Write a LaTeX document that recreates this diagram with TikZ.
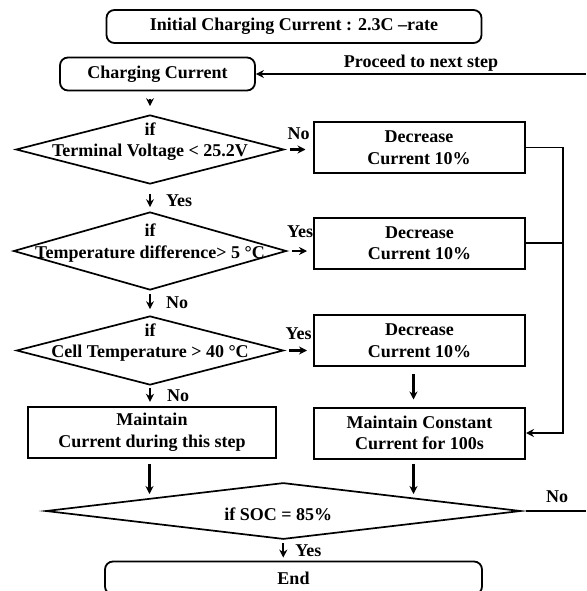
\documentclass[tikz,border=0pt]{standalone}
\usepackage{fontspec}
\setmainfont{Liberation Serif}
\usetikzlibrary{arrows.meta,shapes.geometric,positioning}
\definecolor{ink}{HTML}{000000}
\newcommand{\chartfont}{\fontsize{18}{21.5}\selectfont\bfseries}
\tikzset{
 every node/.append style={font=\chartfont,text=ink,align=center},
 box/.style={draw=ink,line width=2pt,inner sep=2pt,minimum height=51pt},
 stepbox/.style={box,minimum width=211pt},
 term/.style={draw=ink,line width=1.8pt,rounded corners=8pt,minimum height=33pt,inner sep=2pt},
 cond/.style={draw=ink,diamond,line width=1.7pt,inner sep=0pt},
 word/.style={inner sep=1pt},
 flow/.style={-{Stealth[length=8pt,width=8pt]},draw=ink,line width=2.2pt},
 route/.style={draw=ink,line width=1.8pt},
}

\begin{document}
\begin{tikzpicture}[x=1pt,y=-1pt]

\useasboundingbox (0,0) rectangle (586,591);
\node[term,minimum width=375pt] (init) at (294,26.5) {Initial Charging Current : 2.3C –rate};
\node[term,minimum width=195pt] (cc) at (157.5,74) {Charging Current};
\node[cond,minimum width=268pt,minimum height=69pt,label={[yshift=8pt]center:{if\\Terminal Voltage < 25.2V}}] (d1) at (150,149.5) {};
\node[cond,minimum width=273pt,minimum height=78pt,label={[yshift=8pt]center:{if\\Temperature difference> 5 °C}}] (d2) at (150,251) {};
\node[cond,minimum width=267pt,minimum height=69pt,label={[yshift=8pt]center:{if\\Cell Temperature > 40 °C}}] (d3) at (150,350.5) {};
\node[stepbox] (dec1) at (419,147.5) {Decrease\\Current 10\%};
\node[stepbox] (dec2) at (419.5,243) {Decrease\\Current 10\%};
\node[stepbox] (dec3) at (419.5,340.5) {Decrease\\Current 10\%};
\node[box,minimum width=248.5pt] (keep) at (152,432.3) {Maintain\\Current during this step};
\node[stepbox] (hold) at (419.5,433) {Maintain Constant\\Current for 100s};
\node[cond,minimum width=475pt,minimum height=56.5pt,label={[xshift=-5pt,yshift=-3pt]center:{if SOC = 85\%}}] (soc) at (283.3,511) {};
\node[term,minimum width=377pt] (done) at (293.5,578) {End};
\coordinate (back) at (586,74);
\coordinate (out) at (586,511);
\coordinate (tr) at (563,147.5);

\draw[flow] (back) -- (cc.east) node[word,midway,above=1pt] {Proceed to next step};
\draw[flow,shorten <=8pt,shorten >=8pt] (cc.south -| d1.north) -- (d1.north);
\draw[flow,shorten <=9pt,shorten >=4pt] (d1.south) -- (d2.north) node[word,pos=.6,right=14pt] {Yes};
\draw[flow,shorten <=3pt,shorten >=6pt] (d2.south) -- (d3.north) node[word,pos=.5,right=14pt] {No};
\draw[flow,shorten <=2pt,shorten >=4pt] (d3.south) -- (d3.south |- keep.north) node[word,midway,right=15pt] {No};
\draw[flow,shorten <=5pt,shorten >=7pt] (d1.east) -- (d1.east -| dec1.west) node[word,midway,above=8pt] {No};
\draw[flow,shorten <=4.5pt,shorten >=6pt] (d2.east) -- (d2.east -| dec2.west) node[word,midway,above=11pt] {Yes};
\draw[flow,shorten <=5pt,shorten >=6pt] (d3.east) -- (d3.east -| dec3.west) node[word,midway,above=9pt] {Yes};
\draw[route,-{Stealth[length=8pt,width=8pt]}] (dec1.east) -- (tr) |- (hold.east);
\draw[route] (dec2.east) -- (dec2.east -| tr);
\draw[flow,shorten <=7pt,shorten >=7pt] ([xshift=-6pt]dec3.south) -- ([xshift=-6pt]hold.north);
\draw[flow,shorten <=5pt,shorten >=17pt] ([xshift=-2.5pt]keep.south) -- ([xshift=-2.5pt]keep.south |- soc.center);
\draw[flow,shorten <=4pt,shorten >=17pt] ([xshift=-6pt]hold.south) -- ([xshift=-6pt]hold.south |- soc.center);
\draw[route,shorten <=4pt] (soc.east) -- (out) node[word,pos=.55,above=6pt] {No};
\draw[flow,shorten <=3pt,shorten >=3pt] (soc.south) -- (soc.south |- done.north) node[word,midway,right=10pt] {Yes};

\end{tikzpicture}
\end{document}
